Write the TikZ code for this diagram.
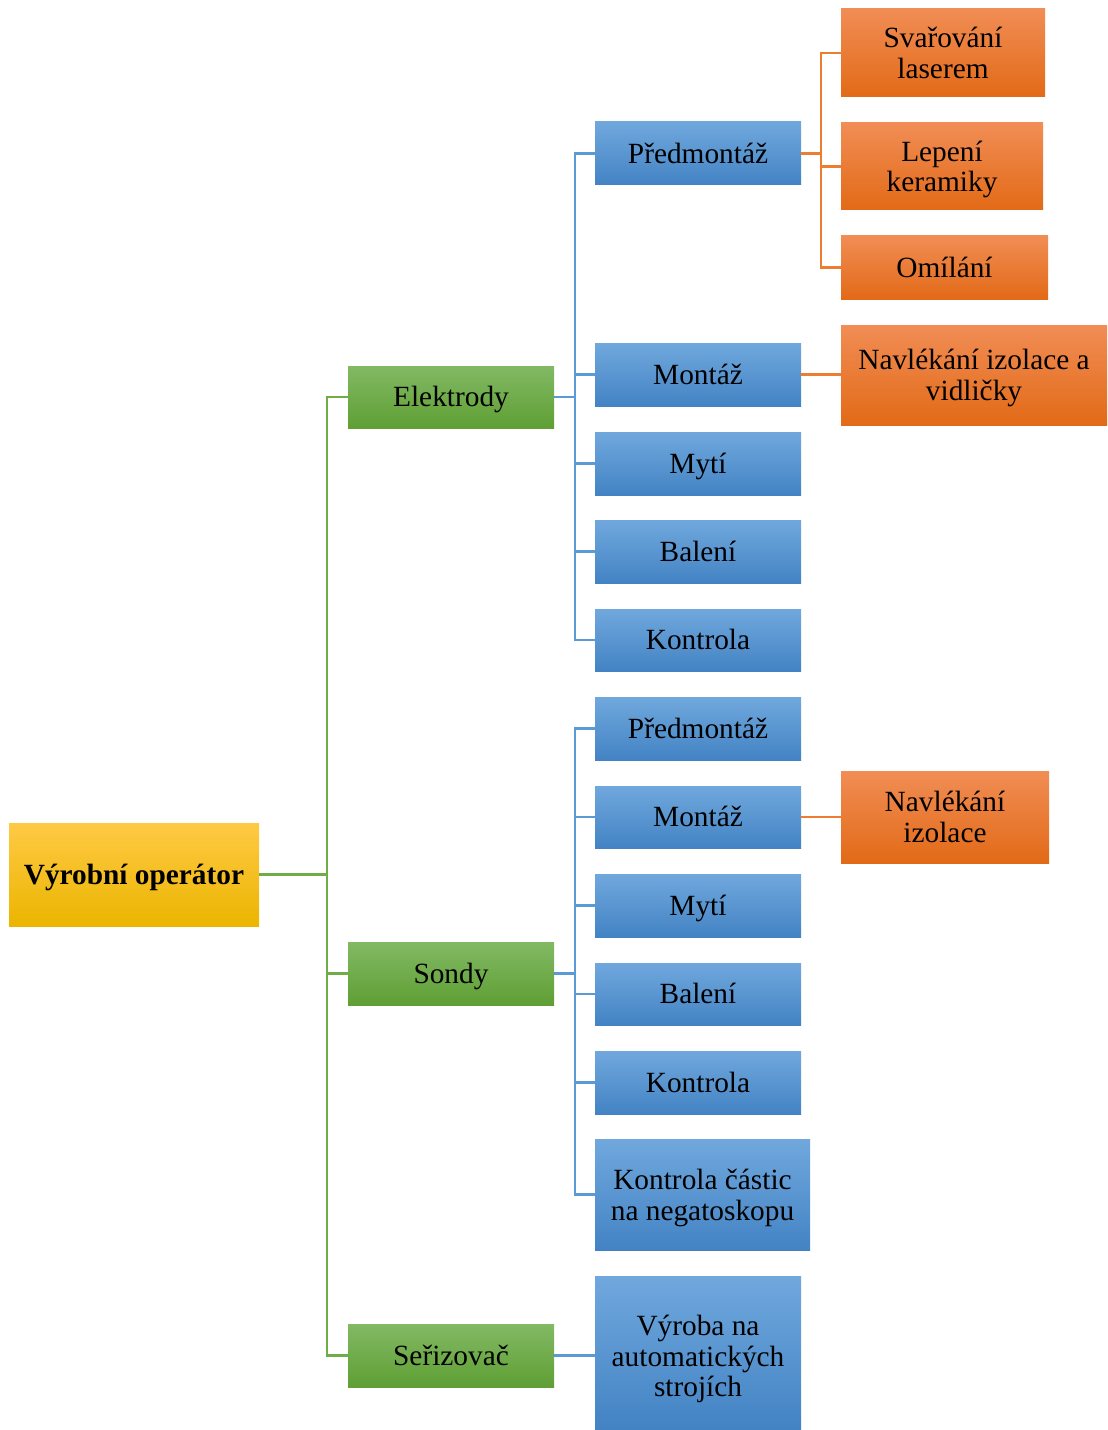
\documentclass[tikz,border=0pt]{standalone}
\usepackage{fontspec}
\setmainfont{Liberation Serif}
\definecolor{blueT}{HTML}{70A8DD}
\definecolor{blueM}{HTML}{5599D8}
\definecolor{blueB}{HTML}{4383C4}
\definecolor{greenT}{HTML}{82B964}
\definecolor{greenM}{HTML}{6FAD45}
\definecolor{greenB}{HTML}{5F9F34}
\definecolor{orangeT}{HTML}{F18D55}
\definecolor{orangeM}{HTML}{F27B2A}
\definecolor{orangeB}{HTML}{E26A17}
\definecolor{goldT}{HTML}{FFC945}
\definecolor{goldM}{HTML}{FFC000}
\definecolor{goldB}{HTML}{EBB500}
\definecolor{blueLine}{HTML}{5B9BD5}
\definecolor{greenLine}{HTML}{70AD47}
\definecolor{orangeLine}{HTML}{ED7D31}
\tikzset{
  base/.style={inner sep=0pt},
  goldbox/.style={base, top color=goldT, middle color=goldM, bottom color=goldB},
  greenbox/.style={base, top color=greenT, middle color=greenM, bottom color=greenB},
  bluebox/.style={base, top color=blueT, middle color=blueM, bottom color=blueB},
  orangebox/.style={base, top color=orangeT, middle color=orangeM, bottom color=orangeB},
  lbl/.style={inner sep=0pt, align=center, text=black, font=\fontsize{22}{23}\selectfont},
  % single-line labels: capitals centred in the box
  oneline/.style={lbl, text height=14.5pt, text depth=0pt},
  boldline/.style={oneline, font=\fontsize{22}{23}\selectfont\bfseries},
  gline/.style={draw=greenLine, line width=1.9pt},
  bline/.style={draw=blueLine, line width=1.9pt},
  oline/.style={draw=orangeLine, line width=1.9pt},
}
% box from its corners (x1,y1)-(x2,y2) in pixel units, with its label
% #1 name, #2-#5 corners, #6 box style, #7 label style, #8 label offset, #9 text
\newcommand\cornerbox[9]{%
  \node[#6, minimum width={(#4-#2)*0.75pt}, minimum height={(#5-#3)*0.75pt}]
    (#1) at ({(#2+#4)/2},{(#3+#5)/2}) {};
  \node[#7] (#1-t) at ([yshift={-(#8)*0.75pt}]#1.center) {#9};}
\begin{document}
\begin{tikzpicture}[x=0.75pt, y=-0.75pt]
\useasboundingbox (0,0) rectangle (1107,1430);

% root
\cornerbox{root}{9}{823}{259}{926}{goldbox}{boldline}{0}{Výrobní operátor}
% second level
\cornerbox{elek}{348}{366}{554}{428}{greenbox}{oneline}{0}{Elektrody}
\cornerbox{sond}{348}{942}{554}{1005}{greenbox}{oneline}{0}{Sondy}
\cornerbox{seri}{348}{1324}{554}{1387}{greenbox}{oneline}{0}{Seřizovač}
% Elektrody children
\cornerbox{ePre}{595}{122}{801}{185}{bluebox}{oneline}{0}{Předmontáž}
\cornerbox{eMon}{595}{343}{801}{406}{bluebox}{oneline}{0}{Montáž}
\cornerbox{eMyt}{595}{432}{801}{495}{bluebox}{oneline}{0}{Mytí}
\cornerbox{eBal}{595}{520}{801}{583}{bluebox}{oneline}{0}{Balení}
\cornerbox{eKon}{595}{609}{801}{671}{bluebox}{oneline}{0}{Kontrola}
% Sondy children
\cornerbox{sPre}{595}{697}{801}{760}{bluebox}{oneline}{0}{Předmontáž}
\cornerbox{sMon}{595}{786}{801}{848}{bluebox}{oneline}{0}{Montáž}
\cornerbox{sMyt}{595}{874}{801}{937}{bluebox}{oneline}{0}{Mytí}
\cornerbox{sBal}{595}{963}{801}{1025}{bluebox}{oneline}{0}{Balení}
\cornerbox{sKon}{595}{1051}{801}{1114}{bluebox}{oneline}{0}{Kontrola}
\cornerbox{sCas}{595}{1139}{810}{1250}{bluebox}{lbl}{3.5}{Kontrola částic\\na negatoskopu}
% Seřizovač child
\cornerbox{vyr}{595}{1276}{801}{1429}{bluebox}{lbl}{6.5}{Výroba na\\automatických\\strojích}
% orange leaves
\cornerbox{oSva}{841}{9}{1045}{97}{orangebox}{lbl}{0}{Svařování\\laserem}
\cornerbox{oLep}{841}{123}{1043}{210}{orangebox}{lbl}{3}{Lepení\\keramiky}
\cornerbox{oOmi}{841}{236}{1048}{299}{orangebox}{oneline}{0}{Omílání}
\cornerbox{oNav}{841}{325}{1107}{425}{orangebox}{lbl}{3}{Navlékání izolace a\\vidličky}
\cornerbox{oNiz}{841}{771}{1049}{863}{orangebox}{lbl}{0}{Navlékání\\izolace}

% connectors: root -> second level
\coordinate (gBus) at (327,874);
\draw[gline] (root.east) -- (root.east -| gBus);
\foreach \c in {elek,sond,seri}
  \draw[gline] (gBus) |- (\c.west);

% Elektrody -> operations
\coordinate (bE) at (575,397);
\draw[bline] (elek.east) -- (elek.east -| bE);
\foreach \c in {ePre,eMon,eMyt,eBal,eKon}
  \draw[bline] (bE) |- (\c.west);

% Sondy -> operations
\coordinate (bS) at (575,974);
\draw[bline] (sond.east) -- (sond.east -| bS);
\foreach \c in {sPre,sMon,sMyt,sBal,sKon,sCas}
  \draw[bline] (bS) |- (\c.west);

% Seřizovač -> production
\draw[bline] (seri.east) -- (seri.east -| vyr.west);

% Předmontáž -> sub-steps
\coordinate (oP) at (821,154);
\draw[oline] (ePre.east) -- (ePre.east -| oP);
\foreach \c in {oSva,oLep,oOmi}
  \draw[oline] (oP) |- (\c.west);

% Montáž -> threading steps
\draw[oline] (eMon.east) -- (eMon.east -| oNav.west);
\draw[oline] (sMon.east) -- (sMon.east -| oNiz.west);
\end{tikzpicture}
\end{document}
